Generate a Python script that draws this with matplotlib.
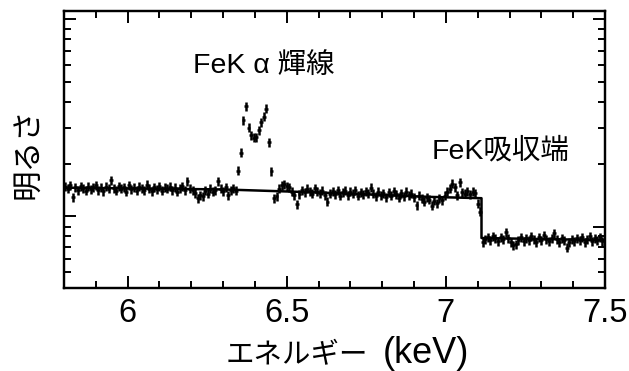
import numpy as np
import matplotlib
matplotlib.use("Agg")
import matplotlib.pyplot as plt
from matplotlib.ticker import FixedLocator, MultipleLocator, NullFormatter

plt.rcParams['font.family'] = ['Liberation Sans', 'Noto Sans CJK JP']

# spectrum bins (keV), 8 eV wide
energy = 5.804 + 0.008 * np.arange(212)
brightness = [
    1.56, 1.52, 1.58, 1.39, 1.55, 1.50, 1.57, 1.53, 1.49, 1.56,
    1.51, 1.55, 1.58, 1.50, 1.54, 1.48, 1.56, 1.52, 1.67, 1.53,
    1.49, 1.57, 1.52, 1.55, 1.47, 1.58, 1.51, 1.54, 1.49, 1.56,
    1.53, 1.50, 1.59, 1.52, 1.48, 1.55, 1.51, 1.57, 1.49, 1.54,
    1.52, 1.56, 1.50, 1.54, 1.47, 1.53, 1.57, 1.50, 1.65, 1.52,
    1.50, 1.45, 1.37, 1.42, 1.40, 1.49, 1.44, 1.52, 1.47, 1.50,
    1.65, 1.52, 1.48, 1.55, 1.42, 1.50, 1.53, 1.49, 1.86, 2.27,
    3.26, 3.81, 3.00, 2.75, 2.68, 2.70, 2.92, 3.18, 3.39, 3.71,
    2.56, 1.85, 1.37, 1.40, 1.52, 1.58, 1.60, 1.57, 1.55, 1.47,
    1.42, 1.28, 1.43, 1.50, 1.46, 1.52, 1.48, 1.44, 1.53, 1.47,
    1.45, 1.49, 1.42, 1.32, 1.44, 1.48, 1.43, 1.50, 1.41, 1.46,
    1.49, 1.42, 1.47, 1.44, 1.50, 1.41, 1.46, 1.43, 1.48, 1.45,
    1.54, 1.44, 1.40, 1.47, 1.42, 1.45, 1.39, 1.46, 1.41, 1.48,
    1.43, 1.38, 1.45, 1.40, 1.47, 1.42, 1.44, 1.39, 1.27, 1.41,
    1.36, 1.32, 1.39, 1.35, 1.26, 1.33, 1.30, 1.37, 1.34, 1.41,
    1.47, 1.52, 1.61, 1.55, 1.42, 1.64, 1.46, 1.44, 1.48, 1.43,
    1.47, 1.45, 1.29, 1.18, 0.84, 0.87, 0.89, 0.86, 0.90, 0.88,
    0.85, 0.89, 0.87, 0.94, 0.88, 0.84, 0.81, 0.82, 0.86, 0.89,
    0.85, 0.88, 0.86, 0.90, 0.87, 0.84, 0.89, 0.86, 0.91, 0.87,
    0.85, 0.88, 0.93, 0.87, 0.84, 0.88, 0.86, 0.79, 0.84, 0.87,
    0.85, 0.88, 0.86, 0.89, 0.84, 0.87, 0.90, 0.85, 0.88, 0.86,
    0.89, 0.85,
]
rel_err = 0.05  # error bars look about +-5 %

# continuum model with the Fe K edge
model_e = [5.80, 6.30, 6.60, 6.95, 7.112, 7.112, 7.50]
model_v = [1.54, 1.51, 1.46, 1.39, 1.37, 0.88, 0.86]

fig = plt.figure(figsize=(6.29, 3.71), dpi=100)
ax = fig.add_axes([0.1017, 0.2237, 0.8601, 0.7467])

b = np.array(brightness)
ax.errorbar(energy, b, yerr=b * rel_err, xerr=0.006, fmt='none',
            ecolor='black', elinewidth=1.8, capsize=0)
ax.plot(model_e, model_v, color='black', lw=1.8)

ax.set_yscale('log')
ax.set_xlim(5.8, 7.5)
ax.set_ylim(0.505, 10.97)

ax.xaxis.set_major_locator(FixedLocator([6, 6.5, 7, 7.5]))
ax.xaxis.set_minor_locator(MultipleLocator(0.1))
ax.set_xticklabels(['6', '6.5', '7', '7.5'])

ax.yaxis.set_major_locator(FixedLocator([1.12, 10]))
ax.yaxis.set_minor_locator(FixedLocator([0.6, 0.7, 0.8, 0.9, 1, 2, 3, 4, 5, 6, 7, 8, 9]))
ax.yaxis.set_major_formatter(NullFormatter())
ax.yaxis.set_minor_formatter(NullFormatter())

ax.tick_params(which='both', direction='in', top=True, right=False, width=1.4)
ax.tick_params(which='major', length=8.5)
ax.tick_params(which='minor', length=4.8)
ax.tick_params(axis='x', labelsize=23.5, pad=7)

ax2 = ax.twinx()
ax2.set_yscale('log')
ax2.set_ylim(0.505, 10.97)
ax2.yaxis.set_major_locator(FixedLocator([1, 10]))
ax2.yaxis.set_minor_locator(FixedLocator([0.6, 0.7, 0.8, 0.9, 2, 3, 4, 5, 6, 7, 8, 9]))
ax2.yaxis.set_major_formatter(NullFormatter())
ax2.yaxis.set_minor_formatter(NullFormatter())
ax2.tick_params(which='both', direction='in', width=1.4)
ax2.tick_params(which='major', length=8.5)
ax2.tick_params(which='minor', length=4.8)

for a in (ax, ax2):
    for s in a.spines.values():
        s.set_linewidth(1.6)

ax.text(6.205, 5.52, 'FeK α 輝線', fontsize=20.5, ha='left', va='baseline')
ax.text(6.9565, 2.13, 'FeK吸収端', fontsize=20.5, ha='left', va='baseline')

fig.text(296.7 / 629, 1 - 363 / 371, 'エネルギー', fontsize=20.5,
         family='Noto Sans CJK JP', ha='center', va='baseline')
fig.text(426 / 629, 1 - 363 / 371, '(keV)', fontsize=26,
         family='Liberation Sans', ha='center', va='baseline')
fig.text(27.5 / 629, 1 - 153 / 371, '明るさ', fontsize=22,
         family='Noto Sans CJK JP', rotation=90, ha='center', va='center')

fig.savefig('out.png', dpi=100)
